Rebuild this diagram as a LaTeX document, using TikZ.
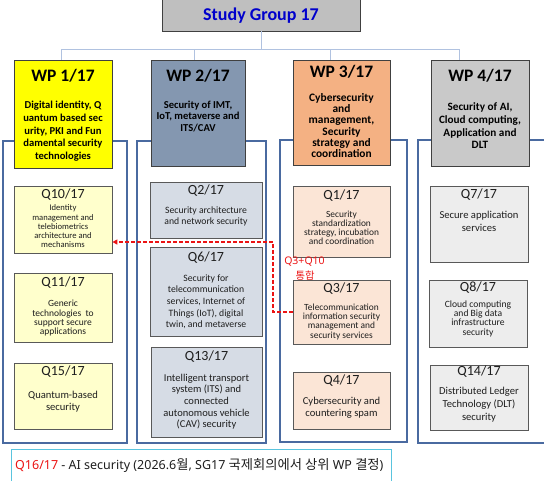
\documentclass[tikz,border=0pt]{standalone}
\usepackage{fontspec}
\setmainfont{Carlito}
\newfontfamily\krfont{Noto Sans CJK KR}
\newfontfamily\notofont{Noto Sans}
\usetikzlibrary{fit,arrows.meta}
\definecolor{sgblue}{RGB}{0,0,204}
\definecolor{sgfill}{RGB}{191,191,191}
\definecolor{bdark}{RGB}{64,64,64}
\definecolor{qdark}{RGB}{89,89,89}
\definecolor{connc}{RGB}{176,194,224}
\definecolor{grpc}{RGB}{74,106,160}
\definecolor{wpa}{RGB}{255,255,0}
\definecolor{wpb}{RGB}{132,151,176}
\definecolor{wpc}{RGB}{244,177,131}
\definecolor{wpd}{RGB}{201,201,201}
\definecolor{qa}{RGB}{255,255,204}
\definecolor{qb}{RGB}{214,220,229}
\definecolor{qc}{RGB}{251,229,214}
\definecolor{qd}{RGB}{237,237,237}
\definecolor{redc}{RGB}{235,20,20}
\definecolor{cyanb}{RGB}{90,196,222}
\definecolor{txtc}{RGB}{30,30,30}
\newcommand{\fs}[2]{\fontsize{#1}{#2}\selectfont}
\begin{document}
\begin{tikzpicture}[x=1pt,y=-1pt,
  box/.style={draw, rectangle, inner sep=0pt},
  wpbox/.style={box, draw=bdark, line width=0.9pt},
  qbox/.style={box, draw=qdark, line width=0.7pt},
  conn/.style={draw=connc, line width=0.9pt},
  grp/.style={draw=grpc, line width=1.1pt},
  wptitle/.style={inner sep=0pt, font=\bfseries\fs{17.5}{20}, text=black},
  qhead/.style={inner sep=0pt, font=\fs{14}{16}, text=txtc},
  body/.style={inner sep=0pt, align=center, text=txtc},
  wpbody/.style={inner sep=0pt, align=center, text=black, font=\bfseries\fs{#1}{#1}},
  redarrow/.style={draw=redc, line width=1.3pt, dash pattern=on 4pt off 2pt, -{Triangle[length=5pt,width=5pt]}}
]
\useasboundingbox (0,0) rectangle (544,480);
\clip (0,0) rectangle (544,480);

% Study group
\node[box, draw=bdark, line width=0.9pt, fill=sgfill, fit={(162,-2) (360,31)}] (SG) {};
\node[inner sep=0pt, font=\bfseries\fs{18}{20}, text=sgblue] (SGt) at (261,16) {Study Group 17};

% connectors
\coordinate (bus) at (261,49);
\coordinate (d1) at (61,49);
\coordinate (d2) at (194,49);
\coordinate (d3) at (330,49);
\coordinate (d4) at (459,49);
\draw[conn] (SG.south) -- (bus);
\draw[conn] (d1) -- (d4);

% group frames
\node[box, grp, fit={(3,141) (127,443)}] (G1) {};
\node[box, grp, fit={(137,141) (266,443)}] (G2) {};
\node[box, grp, fit={(280,140) (407,442)}] (G3) {};
\node[box, grp, fit={(418,140) (560,443)}] (G4) {};

% WP boxes
\node[wpbox, fill=wpa, fit={(14,60) (112,168)}] (WP1) {};
\node[wpbox, fill=wpb, fit={(151,60) (245,166)}] (WP2) {};
\node[wpbox, fill=wpc, fit={(293,60) (390,165)}] (WP3) {};
\node[wpbox, fill=wpd, fit={(431,60) (529,166)}] (WP4) {};
\draw[conn] (d1) -- (d1 |- WP1.north);
\draw[conn] (d2) -- (d2 |- WP2.north);
\draw[conn] (d3) -- (d3 |- WP3.north);
\draw[conn] (d4) -- (d4 |- WP4.north);

\node[wptitle] (WP1t) at (63,75.7) {WP 1/17};
\node[wptitle] (WP2t) at (198,75.7) {WP 2/17};
\node[wptitle] (WP3t) at (341.5,71.7) {WP 3/17};
\node[wptitle] (WP4t) at (480,75.7) {WP 4/17};

\node[wpbody={10.6}, font=\bfseries\fs{10.6}{12.7}] (WP1b) at (63,131.3) {Digital identity, Q\\uantum based sec\\urity, PKI and Fun\\damental security\\technologies};
\node[wpbody={10.6}, font=\bfseries\fs{10.6}{11.3}] (WP2b) at (198,116.3) {Security of IMT,\\IoT, metaverse and\\ITS/CAV};
\node[wpbody={11.4}, font=\bfseries\fs{11.4}{11.1}] (WP3b) at (341.5,125.5) {Cybersecurity\\and\\management,\\Security\\strategy and\\coordination};
\node[wpbody={11.2}, font=\bfseries\fs{11.2}{12.7}] (WP4b) at (480,125.8) {Security of AI,\\Cloud computing,\\Application and\\DLT};

% Q boxes WP1
\node[qbox, fill=qa, fit={(14,186) (112,253)}] (Q10) {};
\node[qhead] (Q10h) at (63,195) {Q10/17};
\node[body, font=\fs{8.6}{9.3}] (Q10b) at (63,226.4) {Identity\\management and\\telebiometrics\\architecture and\\mechanisms};

\node[qbox, fill=qa, fit={(14,273) (112,342)}] (Q11) {};
\node[qhead] (Q11h) at (63,282.7) {Q11/17};
\node[body, font=\fs{9.5}{9.4}] (Q11b) at (63,318.3) {Generic\\technologies~~to\\support secure\\applications};

\node[qbox, fill=qa, fit={(14,363) (112,429)}] (Q15) {};
\node[qhead] (Q15h) at (63,371.7) {Q15/17};
\node[body, font=\fs{10.6}{12}] (Q15b) at (63,401.7) {Quantum-based\\security};

% Q boxes WP2
\node[qbox, fill=qb, fit={(150,182) (262,238)}] (Q2) {};
\node[qhead] (Q2h) at (206,190.7) {Q2/17};
\node[body, font=\fs{9.7}{11}] (Q2b) at (206,216.2) {Security architecture\\and network security};

\node[qbox, fill=qb, fit={(150,247) (262,336)}] (Q6) {};
\node[qhead] (Q6h) at (206,257.3) {Q6/17};
\node[body, font=\fs{9.7}{11.6}] (Q6b) at (206,301.7) {Security for\\telecommunication\\services, Internet of\\Things (IoT), digital\\twin, and metaverse};

\node[qbox, fill=qb, fit={(151,347) (262,437)}] (Q13) {};
\node[qhead] (Q13h) at (206.5,356.7) {Q13/17};
\node[body, font=\fs{10.5}{11.7}] (Q13b) at (206.5,401.7) {Intelligent transport\\system (ITS) and\\connected\\autonomous vehicle\\(CAV) security};

% Q boxes WP3
\node[qbox, fill=qc, fit={(293,186) (390,257)}] (Q1) {};
\node[qhead] (Q1h) at (341.5,196) {Q1/17};
\node[body, font=\fs{9.4}{9.3}] (Q1b) at (341.5,227.8) {Security\\standardization\\strategy, incubation\\and coordination};

\node[qbox, fill=qc, fit={(293,280) (390,344)}] (Q3) {};
\node[qhead] (Q3h) at (341.5,289) {Q3/17};
\node[body, font=\fs{9.4}{9.4}] (Q3b) at (341.5,321.7) {Telecommunication\\information security\\management and\\security services};

\node[qbox, fill=qc, fit={(293,372) (390,429)}] (Q4) {};
\node[qhead] (Q4h) at (341.5,381) {Q4/17};
\node[body, font=\fs{10.6}{12.3}] (Q4b) at (341.5,407.8) {Cybersecurity and\\countering spam};

% Q boxes WP4
\node[qbox, fill=qd, fit={(430,186) (528,262)}] (Q7) {};
\node[qhead] (Q7h) at (479,195) {Q7/17};
\node[body, font=\fs{10.6}{13.3}] (Q7b) at (479,221.7) {Secure application\\services};

\node[qbox, fill=qd, fit={(429,280) (527,347)}] (Q8) {};
\node[qhead] (Q8h) at (478,287.3) {Q8/17};
\node[body, font=\fs{9.6}{9.2}] (Q8b) at (478,318.8) {Cloud computing\\and Big data\\infrastructure\\security};

\node[qbox, fill=qd, fit={(430,365) (528,430)}] (Q14) {};
\node[qhead] (Q14h) at (479,371.7) {Q14/17};
\node[body, font=\fs{10.6}{12.8}] (Q14b) at (479,404.5) {Distributed Ledger\\Technology (DLT)\\security};

% merge arrow
\coordinate (t1) at (273,242);
\draw[redarrow] (Q3.west) -| (t1) -- (Q10.east |- t1);
\node[inner sep=0pt, text=redc, font=\notofont\fs{10.5}{12}] (lblA) at (304.5,262) {Q3+Q10};
\node[inner sep=0pt, text=redc, font=\krfont\fs{10.3}{12}] (lblB) at (305,276) {통합};

% bottom note
\node[box, draw=cyanb, line width=1pt, fit={(11,449) (391,492)}] (Q16box) {};
\node[anchor=west, inner sep=0pt, text=txtc, font=\notofont\fs{12.5}{14}] (Q16) at (15,465)
  {\textcolor{redc}{Q16/17} - AI security (2026.6{\krfont\fs{13.3}{14}월}, SG17 {\krfont\fs{13.3}{14}국제회의에서 상위} WP {\krfont\fs{13.3}{14}결정})};
\end{tikzpicture}
\end{document}
